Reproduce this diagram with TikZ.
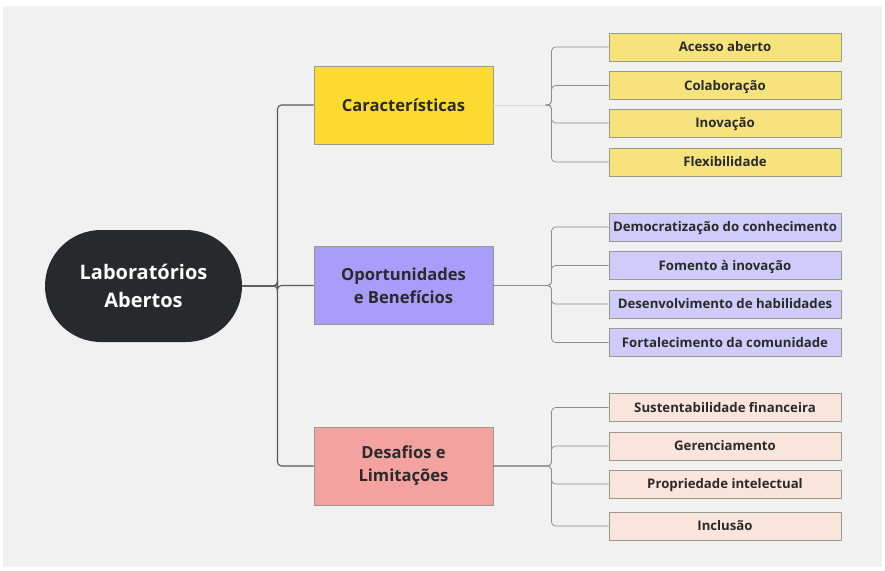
\documentclass[tikz,border=0pt]{standalone}
\usepackage{fontspec}
\setmainfont{Open Sans}
\definecolor{bg}{HTML}{F1F1F1}
\definecolor{ctr}{HTML}{27292D}
\definecolor{yMain}{HTML}{FDDA2F}
\definecolor{yLeaf}{HTML}{F7E37C}
\definecolor{pMain}{HTML}{A99DFB}
\definecolor{pLeaf}{HTML}{D0CBFA}
\definecolor{rMain}{HTML}{F3A29F}
\definecolor{rLeaf}{HTML}{FAE5DC}
\definecolor{txt}{HTML}{2A2A2A}
\definecolor{boxline}{HTML}{9A9A8A}
\begin{document}
\begin{tikzpicture}[x=1pt,y=-1pt,
  center/.style={draw=none,fill=ctr,rounded corners=56pt,minimum width=197pt,minimum height=112pt,
     text=white,font=\fontsize{20}{28}\selectfont\bfseries,align=center,inner sep=0pt},
  mainbox/.style={draw=boxline,line width=0.6pt,minimum width=179pt,minimum height=78pt,
     text=txt,font=\fontsize{16.6}{23}\selectfont\bfseries,align=center,inner sep=0pt},
  leaf/.style={draw=boxline,line width=0.6pt,minimum width=232pt,minimum height=28pt,
     text height=12pt,text depth=2.6pt,
     text=txt,font=\fontsize{13.2}{15}\selectfont\bfseries,align=center,inner sep=0pt},
  link/.style={draw=black!65,line width=1.1pt,rounded corners=4pt},
  sublink/.style={draw=black!45,line width=0.7pt,rounded corners=4pt}
]
\useasboundingbox (0,0) rectangle (885,570);
\fill[white] (0,0) rectangle (885,570);
\fill[bg] (3,6) rectangle (882,567);

\node[center] (c) at (143.5,286) {Laboratórios\\Abertos};

\node[mainbox,fill=yMain] (m1) at (403.5,105) {Características};
\node[mainbox,fill=pMain] (m2) at (403.5,285.5) {Oportunidades\\e Benefícios};
\node[mainbox,fill=rMain] (m3) at (403.5,466) {Desafios e\\Limitações};

\node[leaf,fill=yLeaf] (a1) at (725,47) {Acesso aberto};
\node[leaf,fill=yLeaf] (a2) at (725,85.5) {Colaboração};
\node[leaf,fill=yLeaf] (a3) at (725,123) {Inovação};
\node[leaf,fill=yLeaf] (a4) at (725,162) {Flexibilidade};

\node[leaf,fill=pLeaf] (b1) at (725,227) {Democratização do conhecimento};
\node[leaf,fill=pLeaf] (b2) at (725,265.5) {Fomento à inovação};
\node[leaf,fill=pLeaf] (b3) at (725,304) {Desenvolvimento de habilidades};
\node[leaf,fill=pLeaf] (b4) at (725,342.5) {Fortalecimento da comunidade};

\node[leaf,fill=rLeaf] (d1) at (725,407.5) {Sustentabilidade financeira};
\node[leaf,fill=rLeaf] (d2) at (725,446) {Gerenciamento};
\node[leaf,fill=rLeaf] (d3) at (725,484) {Propriedade intelectual};
\node[leaf,fill=rLeaf] (d4) at (725,526) {Inclusão};

\coordinate (jc) at (277.5,286);
\foreach \m in {m1,m2,m3}{
  \draw[link] (c.east) -- (jc) |- (\m.west);
}
\coordinate (j1) at (551.5,105);
\coordinate (j2) at (551.5,285.5);
\coordinate (j3) at (551.5,466);
\draw[sublink,draw=black!15] (m1.east) -- (j1);
\foreach \l in {a1,a2,a3,a4}{
  \draw[sublink] ([xshift=-6pt]j1) -- (j1) |- (\l.west);
}
\foreach \l in {b1,b2,b3,b4}{
  \draw[sublink] (m2.east) -- (j2) |- (\l.west);
}
\foreach \l in {d1,d2,d3,d4}{
  \draw[sublink] (m3.east) -- (j3) |- (\l.west);
}
\end{tikzpicture}
\end{document}
